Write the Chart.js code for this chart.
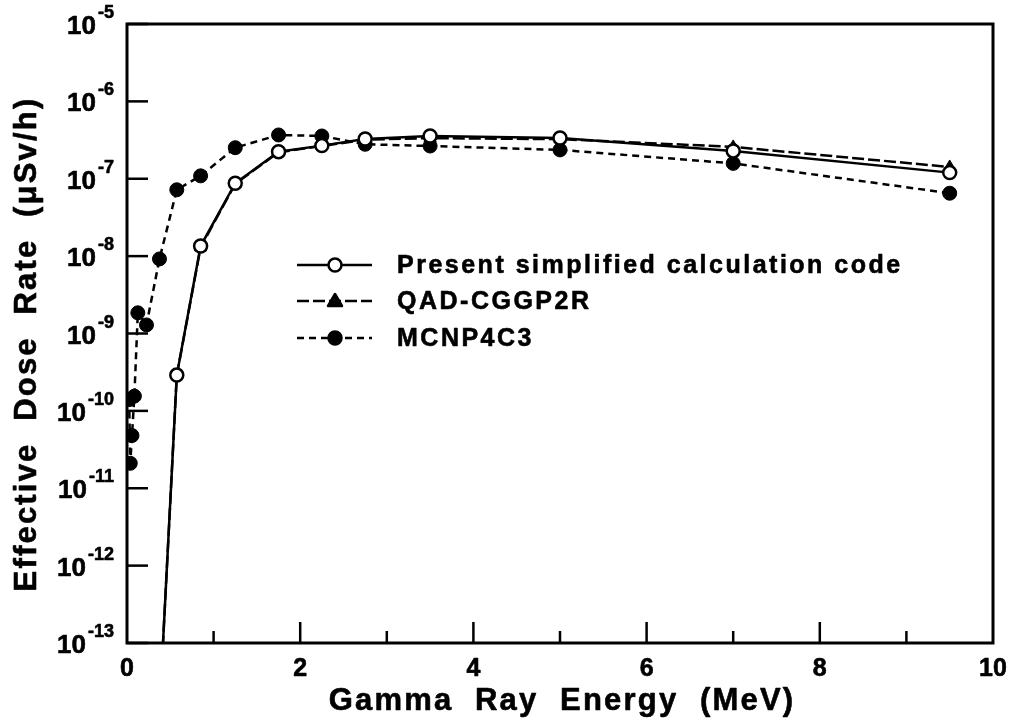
<!DOCTYPE html>
<html>
<head>
<meta charset="utf-8">
<script src="https://cdn.jsdelivr.net/npm/chart.js@4"></script>
<style>
  html, body { margin: 0; padding: 0; background: #fff; }
  #wrap { width: 1011px; height: 722px; }
</style>
</head>
<body>
<div id="wrap"><canvas id="doseChart" width="1011" height="722"></canvas></div>
<script>
// Gamma ray energies (MeV), ORIGEN style group energies
const energyPresent = [0.375, 0.575, 0.85, 1.25, 1.75, 2.25, 2.75, 3.5, 5.0, 7.0, 9.5];
const presentDose = [1.3e-14, 2.9e-10, 1.35e-8, 8.75e-8, 2.24e-7, 2.68e-7, 3.27e-7, 3.57e-7, 3.37e-7, 2.29e-7, 1.2e-7];
const qadDose = [1.3e-14, 2.9e-10, 1.3e-8, 8.6e-8, 2.2e-7, 2.65e-7, 3.2e-7, 3.35e-7, 3.25e-7, 2.58e-7, 1.42e-7];

const energyMcnp = [0.025, 0.0375, 0.0575, 0.085, 0.125, 0.225, 0.375, 0.575, 0.85, 1.25, 1.75, 2.25, 2.75, 3.5, 5.0, 7.0, 9.5];
const mcnpDose = [1.4e-10, 2.1e-11, 4.8e-11, 1.55e-10, 1.85e-9, 1.29e-9, 9.2e-9, 7.2e-8, 1.09e-7, 2.52e-7, 3.68e-7, 3.57e-7, 2.79e-7, 2.65e-7, 2.36e-7, 1.58e-7, 6.5e-8];

const seriesNames = ['Present simplified calculation code', 'QAD-CGGP2R', 'MCNP4C3'];
const xTickLabels = ['0', '2', '4', '6', '8', '10'];
const yExponents = [-5, -6, -7, -8, -9, -10, -11, -12, -13];

function toPoints(xs, ys) {
    return xs.map((x, i) => ({ x: x, y: ys[i] }));
}

const FONT = '"Liberation Sans", Arial, sans-serif';

// bold text with a thin outline so it looks as heavy as the original
function heavyText(ctx, txt, x, y) {
    ctx.fillText(txt, x, y);
    ctx.strokeText(txt, x, y);
}

// draws frame, inward ticks, tick labels, titles and the legend
const decorPlugin = {
    id: 'decor',
    afterDraw(chart) {
        const ctx = chart.ctx;
        const a = chart.chartArea;
        const xs = chart.scales.x;
        const ys = chart.scales.y;
        ctx.save();
        ctx.strokeStyle = '#000';
        ctx.fillStyle = '#000';
        ctx.lineWidth = 3;
        ctx.strokeRect(a.left, a.top, a.right - a.left, a.bottom - a.top);

        // x ticks
        ctx.lineWidth = 2.5;
        for (let v = 1; v < 10; v++) {
            const px = xs.getPixelForValue(v);
            const len = (v % 2 === 0) ? 21 : 12;
            ctx.beginPath();
            ctx.moveTo(px, a.bottom);
            ctx.lineTo(px, a.bottom - len);
            ctx.stroke();
        }
        // y ticks
        yExponents.forEach(e => {
            const py = ys.getPixelForValue(Math.pow(10, e));
            ctx.beginPath();
            ctx.moveTo(a.left, py);
            ctx.lineTo(a.left + 21, py);
            ctx.stroke();
        });

        ctx.lineWidth = 0.6;
        ctx.lineJoin = 'round';

        // x tick labels
        ctx.font = 'bold 25px ' + FONT;
        ctx.textAlign = 'center';
        ctx.textBaseline = 'alphabetic';
        xTickLabels.forEach(t => {
            heavyText(ctx, t, xs.getPixelForValue(parseFloat(t)), 676);
        });

        // y tick labels with superscript exponent
        yExponents.forEach(e => {
            const py = ys.getPixelForValue(Math.pow(10, e));
            ctx.font = 'bold 18px ' + FONT;
            const sup = String(e);
            const supW = ctx.measureText(sup).width;
            ctx.font = 'bold 26px ' + FONT;
            const baseW = ctx.measureText('10').width;
            const right = 114;
            ctx.textAlign = 'left';
            heavyText(ctx, '10', right - supW - baseW - 2, py + 10);
            ctx.font = 'bold 18px ' + FONT;
            heavyText(ctx, sup, right - supW, py - 6);
        });

        // axis titles
        ctx.font = 'bold 31px ' + FONT;
        ctx.letterSpacing = '2.2px';
        ctx.textAlign = 'center';
        heavyText(ctx, 'Gamma  Ray  Energy  (MeV)', 562, 710);
        ctx.save();
        ctx.translate(36, 344);
        ctx.rotate(-Math.PI / 2);
        heavyText(ctx, 'Effective  Dose  Rate  (\u03bcSv/h)', 0, 0);
        ctx.restore();

        // legend
        const rows = [265, 301, 338];
        chart.data.datasets.forEach((ds, i) => {
            const y = rows[i];
            ctx.lineWidth = 2.5;
            ctx.setLineDash(ds.borderDash || []);
            ctx.beginPath();
            ctx.moveTo(297, y);
            ctx.lineTo(372, y);
            ctx.stroke();
            ctx.setLineDash([]);
            const mx = 335;
            ctx.fillStyle = ds.pointBackgroundColor;
            ctx.beginPath();
            if (ds.pointStyle === 'triangle') {
                ctx.moveTo(mx, y - 7);
                ctx.lineTo(mx + 7, y + 5);
                ctx.lineTo(mx - 7, y + 5);
                ctx.closePath();
            } else {
                ctx.arc(mx, y, 6.5, 0, Math.PI * 2);
            }
            ctx.fill();
            ctx.stroke();
            ctx.fillStyle = '#000';
            ctx.font = 'bold 25px ' + FONT;
            ctx.letterSpacing = '2.5px';
            ctx.textAlign = 'left';
            ctx.textBaseline = 'middle';
            ctx.lineWidth = 0.6;
            heavyText(ctx, ds.label, 397, y + 1);
            ctx.letterSpacing = '0px';
        });
        ctx.restore();
    }
};

const ctx = document.getElementById('doseChart').getContext('2d');
new Chart(ctx, {
    type: 'scatter',
    data: {
        datasets: [
            {
                label: seriesNames[0],
                data: toPoints(energyPresent, presentDose),
                showLine: true,
                borderColor: '#000',
                borderWidth: 2.5,
                pointStyle: 'circle',
                pointRadius: 6.5,
                pointBorderWidth: 2.5,
                pointBackgroundColor: '#fff',
                pointBorderColor: '#000'
            },
            {
                label: seriesNames[1],
                data: toPoints(energyPresent, qadDose),
                showLine: true,
                borderColor: '#000',
                borderWidth: 2.5,
                borderDash: [12, 4],
                pointStyle: 'triangle',
                pointRadius: 7,
                pointBorderWidth: 1,
                pointBackgroundColor: '#000',
                pointBorderColor: '#000'
            },
            {
                label: seriesNames[2],
                data: toPoints(energyMcnp, mcnpDose),
                showLine: true,
                borderColor: '#000',
                borderWidth: 2.5,
                borderDash: [7, 5],
                pointStyle: 'circle',
                pointRadius: 7,
                pointBorderWidth: 1,
                pointBackgroundColor: '#000',
                pointBorderColor: '#000'
            }
        ]
    },
    options: {
        responsive: false,
        animation: false,
        layout: { padding: { top: 24, right: 18, left: 0, bottom: 0 } },
        plugins: {
            legend: { display: false },
            tooltip: { enabled: false }
        },
        scales: {
            x: {
                type: 'linear',
                min: 0,
                max: 10,
                grid: { display: false },
                border: { display: false },
                ticks: { display: false },
                afterFit(scale) { scale.height = 79; }
            },
            y: {
                type: 'logarithmic',
                min: 1e-13,
                max: 1e-5,
                grid: { display: false },
                border: { display: false },
                ticks: { display: false },
                afterFit(scale) { scale.width = 127; }
            }
        }
    },
    plugins: [decorPlugin]
});
</script>
</body>
</html>
